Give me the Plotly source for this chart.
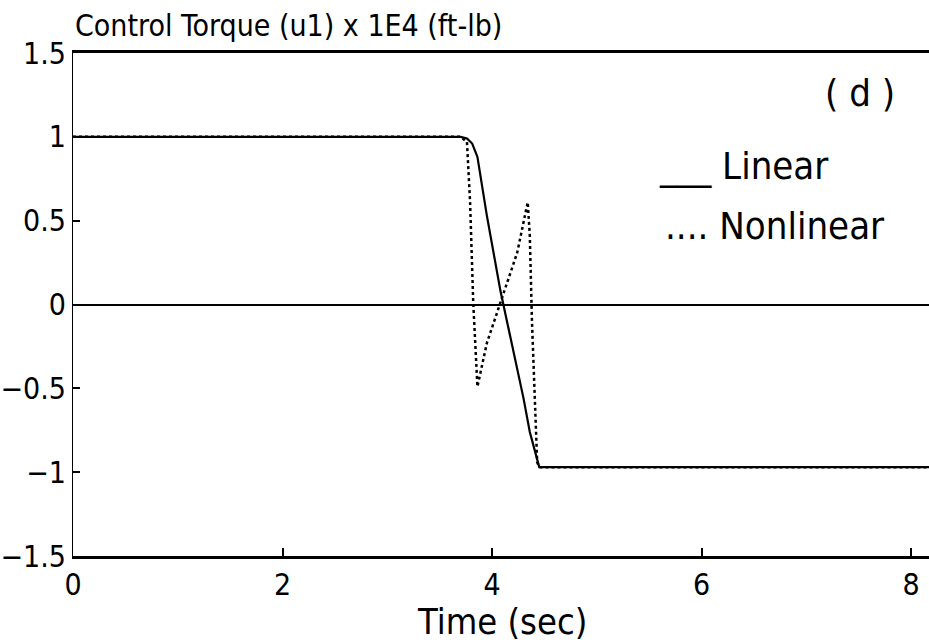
import plotly.graph_objects as go

# Data
t_linear = [0.0, 3.70, 3.76, 3.81, 3.86, 3.95, 4.08, 4.20, 4.30, 4.36, 4.43, 4.45, 8.17]
u_linear = [1.0, 1.0, 0.99, 0.96, 0.88, 0.53, 0.08, -0.26, -0.56, -0.76, -0.93, -0.97, -0.97]

t_nonlinear = [0.0, 3.70, 3.76, 3.79, 3.82, 3.84, 3.86, 3.95, 4.10, 4.24, 4.34, 4.36, 4.38, 4.41, 4.43, 4.45, 8.17]
u_nonlinear = [1.0, 1.0, 0.97, 0.61, 0.01, -0.29, -0.49, -0.23, 0.05, 0.31, 0.61, 0.41, -0.09, -0.58, -0.94, -0.97, -0.97]

x_ticks = [0, 2, 4, 6, 8]
y_ticks = [-1.5, -1, -0.5, 0, 0.5, 1, 1.5]
y_tick_text = ["−1.5", "−1", "−0.5", "0", "0.5", "1", "1.5"]

FONT = "DejaVu Sans Condensed, DejaVu Sans, sans-serif"

fig = go.Figure()
fig.add_trace(go.Scatter(x=t_nonlinear, y=u_nonlinear, mode="lines",
                         line=dict(color="black", width=2.5, dash="dot"),
                         showlegend=False))
fig.add_trace(go.Scatter(x=t_linear, y=u_linear, mode="lines",
                         line=dict(color="black", width=2.2),
                         showlegend=False))

fig.update_layout(
    width=929, height=644,
    margin=dict(l=73, r=0, t=53, b=88),
    paper_bgcolor="white", plot_bgcolor="white",
    font=dict(family=FONT, color="black", size=30),
    xaxis=dict(range=[0, 8.17], tickvals=x_ticks, ticks="inside", ticklen=8,
               tickwidth=1.5, tickcolor="black", showgrid=False, zeroline=False,
               showline=True, linecolor="black", linewidth=2.5, mirror=True,
               tickfont=dict(size=30, family=FONT)),
    yaxis=dict(range=[-1.5, 1.5], tickvals=y_ticks, ticktext=y_tick_text,
               ticks="inside", ticklen=7, tickwidth=1.5, tickcolor="black",
               showgrid=False, zeroline=True, zerolinecolor="black", zerolinewidth=2,
               showline=True, linecolor="black", linewidth=1,
               tickfont=dict(size=30, family=FONT)),
)

ann_font = dict(family=FONT, color="black")
fig.add_annotation(x=0, y=1.054, xref="paper", yref="paper", xanchor="left", yanchor="middle",
                   text="Control Torque (u1) x 1E4 (ft-lb)", showarrow=False,
                   font=dict(size=30, **ann_font))
fig.add_annotation(x=0.501, y=-0.13, xref="paper", yref="paper", xanchor="center", yanchor="middle",
                   text="Time (sec)", showarrow=False, font=dict(size=36, **ann_font))
fig.add_annotation(x=0.919, y=0.92, xref="paper", yref="paper", xanchor="center", yanchor="middle",
                   text="( d )", showarrow=False, font=dict(size=38, **ann_font))
fig.add_annotation(x=0.682, y=0.775, xref="paper", yref="paper", xanchor="left", yanchor="middle",
                   text="___ Linear", showarrow=False, font=dict(size=38, **ann_font))
fig.add_annotation(x=0.689, y=0.656, xref="paper", yref="paper", xanchor="left", yanchor="middle",
                   text=".... Nonlinear", showarrow=False, font=dict(size=38, **ann_font))

fig.write_html("out.html")
